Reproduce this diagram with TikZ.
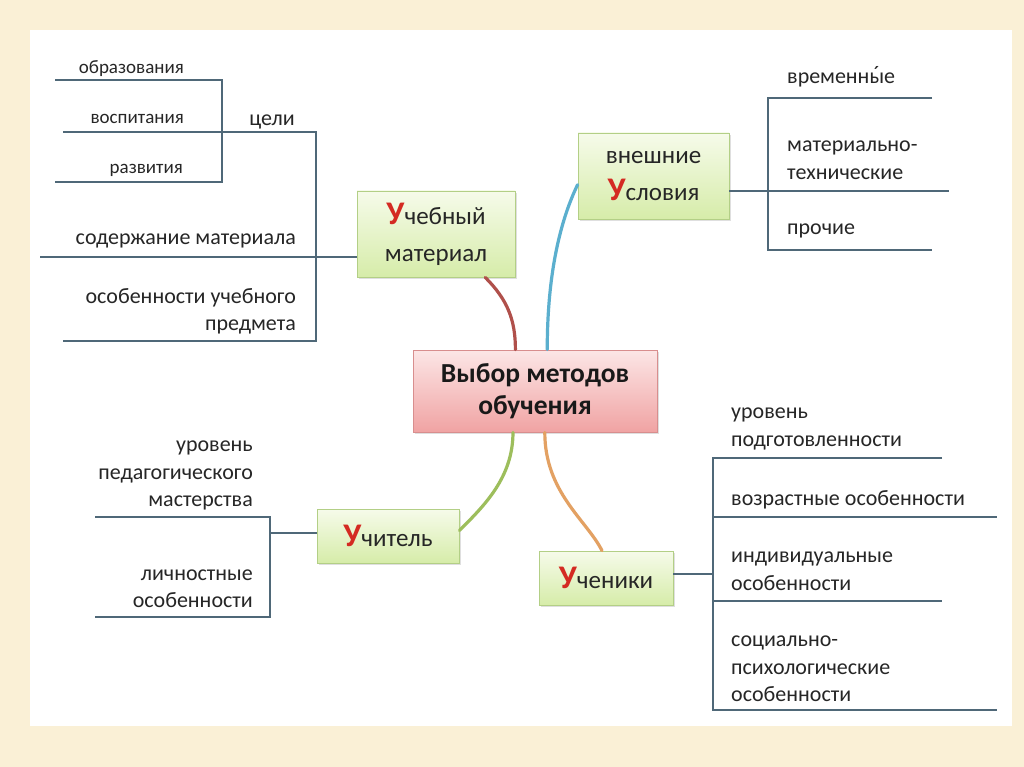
\documentclass[tikz,border=0pt]{standalone}
\usepackage{fontspec}
\setmainfont{Carlito}
\usetikzlibrary{shadows,calc}
\definecolor{cream}{HTML}{FAF0D6}
\definecolor{lineC}{HTML}{4F6878}
\definecolor{uRed}{HTML}{D42A22}
\definecolor{gTop}{HTML}{F6FBEA}
\definecolor{gBot}{HTML}{D6ECA9}
\definecolor{gDraw}{HTML}{B3CF86}
\definecolor{pTop}{HTML}{FCE6E6}
\definecolor{pBot}{HTML}{F0A3A3}
\definecolor{pDraw}{HTML}{D88E8E}
\definecolor{cRed}{HTML}{B0504B}
\definecolor{cBlue}{HTML}{5BAFCE}
\definecolor{cGreen}{HTML}{9DBE5C}
\definecolor{cOrange}{HTML}{E3A163}
\tikzset{
  lbl/.style={font=\fontsize{22}{27.5}\selectfont, inner sep=0pt, text=black!85, yshift=-2.5pt},
  slbl/.style={font=\fontsize{19}{22}\selectfont, inner sep=0pt, text=black!85, yshift=-2pt},
  gbox/.style={rectangle, draw=gDraw, line width=0.8pt, top color=gTop, bottom color=gBot,
    drop shadow={opacity=0.25, shadow xshift=2pt, shadow yshift=-2pt},
    align=center, font=\fontsize{25}{37}\selectfont, text=black!85, inner sep=0pt},
  pbox/.style={rectangle, draw=pDraw, line width=0.8pt, top color=pTop, bottom color=pBot,
    drop shadow={opacity=0.25, shadow xshift=2pt, shadow yshift=-2pt},
    align=center, font=\fontsize{27.5}{32}\selectfont\bfseries, text=black!90, inner sep=0pt},
  branch/.style={draw=lineC, line width=1.8pt},
  link/.style={line width=3.2pt, line cap=round},
}
\newcommand{\bigU}{{\color{uRed}\fontsize{33}{33}\selectfont\bfseries У}}
\newcommand{\accy}[1]{\leavevmode\hbox{\ooalign{#1\cr\hidewidth\raisebox{0.05em}{´}\hidewidth\cr}}}
\begin{document}
\begin{tikzpicture}[x=1pt,y=-1pt]
\useasboundingbox (0,0) rectangle (1024,767);
\fill[cream] (0,0) rectangle (1024,767);
\fill[white] (30,30) rectangle (1012,726);

% boxes
\node[pbox, minimum width=244pt, minimum height=82pt] (main) at (535,391) {Выбор методов\\обучения};
\node[gbox, minimum width=158pt, minimum height=86pt] (mat) at (436,234) {\bigU чебный\\материал};
\node[gbox, minimum width=151pt, minimum height=86pt] (usl) at (653.5,176) {внешние\\\bigU словия};
\node[gbox, minimum width=142pt, minimum height=54pt] (uch) at (388,536) {\bigU читель};
\node[gbox, minimum width=134pt, minimum height=54pt] (stu) at (606,578) {\bigU ченики};

% curves
\draw[link, cRed] ($(mat.south west)!0.81!(mat.south east)$) .. controls +(22,22) and +(0,-30) .. ($(main.north west)!0.42!(main.north east)$);
\draw[link, cBlue] ($(main.north west)!0.55!(main.north east)$) .. controls +(0,-90) and +(-12,25) .. ($(usl.north west)!0.6!(usl.south west)$);
\draw[link, cGreen] ($(main.south west)!0.41!(main.south east)$) .. controls +(0,45) and +(25,-25) .. ($(uch.north east)!0.4!(uch.south east)$);
\draw[link, cOrange] ($(main.south west)!0.54!(main.south east)$) .. controls +(0,60) and +(-15,-30) .. ($(stu.north west)!0.47!(stu.north east)$);

% ---- upper left tree
\coordinate (o1) at (55,80);  \coordinate (j1a) at (222,80);
\coordinate (v1) at (63,132); \coordinate (j1b) at (222,132);
\coordinate (r1) at (55,182); \coordinate (j1c) at (222,182);
\coordinate (c1) at (316,132);
\coordinate (s1) at (40,257); \coordinate (c2) at (316,257);
\coordinate (p1) at (63,341); \coordinate (c3) at (316,341);
\draw[branch] (o1) -- (j1a) -- (j1c) -- (r1);
\draw[branch] (v1) -- (c1) -- (c3) -- (p1);
\draw[branch] (s1) -- (mat.west |- s1);

\node[slbl, anchor=east] (t-obr) at (184,67) {образования};
\node[slbl, anchor=east] (t-vos) at (184,117) {воспитания};
\node[slbl, anchor=east] (t-raz) at (183,168) {развития};
\node[lbl, anchor=center] (t-cel) at (272,119) {цели};
\node[lbl, anchor=east] (t-sod) at (296,238) {содержание материала};
\node[lbl, anchor=east, align=right] (t-osob) at (296,309) {особенности учебного\\предмета};

% ---- upper right tree
\coordinate (u0) at (768,191);
\coordinate (u1) at (768,98);  \coordinate (u1e) at (932,98);
\coordinate (u2e) at (949,191);
\coordinate (u3) at (768,250); \coordinate (u3e) at (932,250);
\draw[branch] (usl.east |- u0) -- (u2e);
\draw[branch] (u1e) -- (u1) -- (u3) -- (u3e);
\node[lbl, anchor=west] (t-vr) at (787,77) {временн\accy{ы}е};
\node[lbl, anchor=west, align=left] (t-mt) at (787,157.5) {материально-\\технические};
\node[lbl, anchor=west] (t-pr) at (787,228) {прочие};

% ---- lower left tree
\coordinate (l0) at (270,533);
\coordinate (l1) at (270,517); \coordinate (l1e) at (95,517);
\coordinate (l2) at (270,617); \coordinate (l2e) at (95,617);
\draw[branch] (uch.west |- l0) -- (l0);
\draw[branch] (l1e) -- (l1) -- (l2) -- (l2e);
\node[lbl, anchor=east, align=right] (t-ped) at (253,473) {уровень\\педагогического\\мастерства};
\node[lbl, anchor=east, align=right] (t-lich) at (253,586) {личностные\\особенности};

% ---- lower right tree
\coordinate (k0) at (713,574);
\coordinate (k1) at (713,458); \coordinate (k1e) at (942,458);
\coordinate (k2) at (713,517); \coordinate (k2e) at (997,517);
\coordinate (k3) at (713,601); \coordinate (k3e) at (942,601);
\coordinate (k4) at (713,710); \coordinate (k4e) at (997,710);
\draw[branch] (stu.east |- k0) -- (k0);
\draw[branch] (k1e) -- (k1) -- (k4) -- (k4e);
\draw[branch] (k2) -- (k2e);
\draw[branch] (k3) -- (k3e);
\node[lbl, anchor=west, align=left] (t-pod) at (731,426.5) {уровень\\подготовленности};
\node[lbl, anchor=west] (t-voz) at (731,497) {возрастные особенности};
\node[lbl, anchor=west, align=left] (t-ind) at (731,568.5) {индивидуальные\\особенности};
\node[lbl, anchor=west, align=left] (t-soc) at (731,666.5) {социально-\\психологические\\особенности};
\end{tikzpicture}
\end{document}
